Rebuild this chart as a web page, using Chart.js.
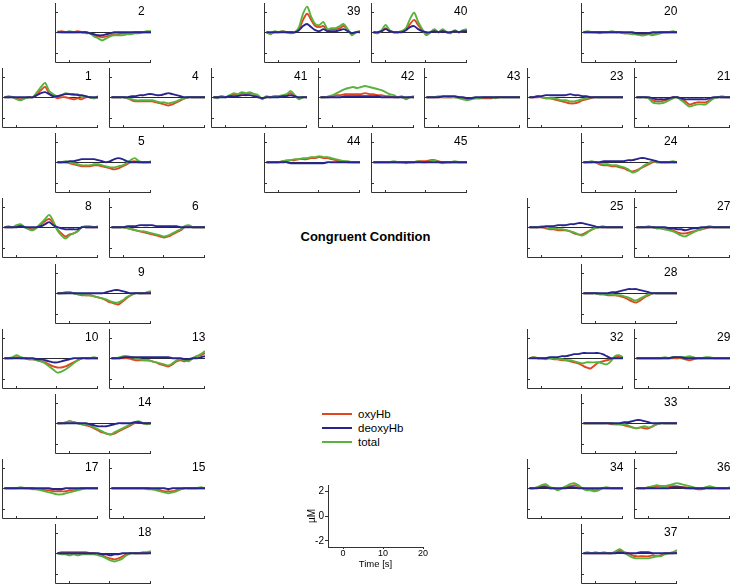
<!DOCTYPE html>
<html><head><meta charset="utf-8">
<script src="https://cdn.jsdelivr.net/npm/chart.js@4.4.1/dist/chart.umd.min.js"></script>
<style>
html,body{margin:0;padding:0;background:#fff;}
#stage{position:relative;width:733px;height:588px;overflow:hidden;font-family:"Liberation Sans",Arial,sans-serif;color:#000;}
#stage canvas{position:absolute;}
#title{position:absolute;left:265.5px;width:200px;top:228.5px;line-height:15px;text-align:center;font-weight:bold;font-size:13px;}
.lgline{position:absolute;left:322px;width:30px;height:2px;}
.lgtext{position:absolute;left:358px;font-size:11.5px;line-height:14px;}
</style></head>
<body><div id="stage">
<div id="title">Congruent Condition</div>
</div>
<script>
// time axis (s) and tick values
const time = [-3,-2,-1,0,1,2,3,4,5,6,7,8,9,10,11,12,13,14,15,16,17,18,19,20];
const xTicks = [0,10,20];
const yTicks = [-2,0,2];
const seriesNames = ['oxyHb','deoxyHb','total'];

// channel values (µM)
const oxy_2 = [0,0.1,0,0,0,0.1,0,0,-0.1,-0.3,-0.4,-0.5,-0.4,-0.3,-0.2,-0.2,-0.1,-0.1,-0.1,0,0,0,0,0];
const deoxy_2 = [0,0,0,0,0,0,0,0,-0.1,-0.2,-0.3,-0.3,-0.2,-0.1,0,0,0,0,0,0,0,0,0,0];
const total_2 = [0.1,0,0,0.1,0,0,0,-0.1,-0.1,-0.4,-0.6,-0.8,-0.6,-0.4,-0.3,-0.3,-0.3,-0.2,-0.2,-0.1,-0.1,0,0.1,0.1];

const oxy_39 = [0,-0.1,0,0,0.1,0,0,0,0.3,1.2,1.8,1.2,0.6,0.5,0.6,0.2,0.3,0.3,0.4,0.6,0.2,-0.1,0,0.1];
const deoxy_39 = [0,0,0,0,0,0,0,0,0.2,0.6,0.8,0.5,0.2,0.1,0.3,0.1,0.1,0.1,0.2,0.3,0.1,-0.1,0,0];
const total_39 = [0,-0.2,0.1,0,0.1,0,-0.1,0,0.5,1.8,2.5,1.5,0.8,0.7,1.0,0.3,0.4,0.4,0.6,0.8,0.3,-0.3,0,0.1];

const oxy_40 = [0,-0.1,0.1,0.4,0.1,0,0,0.1,0.3,0.8,1.2,0.7,0.2,-0.2,0,0.2,0,0.2,0,0,0.1,0,0.1,0.2];
const deoxy_40 = [0,0,0.1,0.3,0.1,0,0,0,0.2,0.5,0.6,0.3,0.1,0,0,0.1,0,0.1,0,0,0.1,0,0.1,0.1];
const total_40 = [0,-0.1,0.2,0.7,0.2,0,0,0.1,0.4,1.3,1.9,1.0,0.3,-0.3,0,0.3,0,0.3,0,-0.1,0.2,0,0.2,0.3];

const oxy_20 = [0,0,0,0,0,0,0,0,0,0,-0.1,-0.1,-0.1,-0.2,-0.2,-0.2,-0.1,-0.2,-0.1,0,0,0,0,0];
const deoxy_20 = [0,0,0,0,0,0,0,0,0,0,0,0,0,-0.1,-0.1,-0.1,-0.1,0,0,0,0,0,0,0];
const total_20 = [0,0.1,0,0,-0.1,0,0,0.1,0,0,-0.1,-0.1,-0.2,-0.2,-0.3,-0.3,-0.2,-0.3,-0.2,-0.1,0,0,0.1,0];

const oxy_1 = [0,0,0,-0.1,-0.2,-0.1,0,0,0.3,0.7,1.0,0.4,0.1,-0.1,0,0,-0.1,-0.2,-0.1,-0.2,0,0,-0.1,0];
const deoxy_1 = [0,0,0,0,0,0,0,0,0.2,0.4,0.5,0.3,0.1,0.1,0.2,0.3,0.3,0.3,0.2,0.2,0.1,0,0,0];
const total_1 = [0,0.1,0,-0.2,-0.3,-0.1,0,0,0.5,1.0,1.4,0.6,0.3,0.1,0.2,0.4,0.3,0.2,0.3,0,0.1,0,-0.1,0.1];

const oxy_4 = [0,0,0,0,-0.1,-0.3,-0.4,-0.4,-0.4,-0.4,-0.4,-0.5,-0.6,-0.7,-0.8,-0.7,-0.5,-0.3,-0.1,0,0,0,0,0];
const deoxy_4 = [0,0,0,0,0,0.1,0.1,0.2,0.2,0.3,0.3,0.2,0.2,0.3,0.4,0.3,0.2,0.1,0,0,0,0,0,0];
const total_4 = [0,0,0,0,-0.1,-0.2,-0.3,-0.3,-0.3,-0.3,-0.3,-0.4,-0.5,-0.5,-0.6,-0.5,-0.4,-0.2,-0.1,0,0,0,0,0];

const oxy_41 = [0,0,0.1,0,0.1,0.3,0.2,0.4,0.3,0.4,0.3,0.1,-0.1,0,0,0.1,0.1,0.1,0.2,0.4,0.1,-0.1,0,0];
const deoxy_41 = [0,0,0,0,0.1,0.1,0.1,0.2,0.2,0.2,0.1,0,-0.1,0,0,0,0,0.1,0.1,0.2,0.1,0,0,0];
const total_41 = [0,-0.1,0.1,0,0.2,0.4,0.3,0.5,0.4,0.5,0.3,0.2,-0.2,0.1,0,0.1,0.1,0.2,0.3,0.6,0.2,-0.2,0,0];

const oxy_42 = [0,0,0,0.1,0.2,0.2,0.3,0.3,0.3,0.3,0.3,0.4,0.3,0.3,0.2,0.2,0.1,0.1,0,0,0,-0.1,0,0];
const deoxy_42 = [0,0,0,0,0,0,0.1,0.1,0.1,0.1,0.1,0.1,0.1,0.1,0.1,0,0,0,0,0,0,0,0,0];
const total_42 = [0,0,0.1,0.2,0.4,0.6,0.8,0.9,1.0,0.9,1.0,1.1,1.0,0.9,0.8,0.7,0.5,0.3,0.2,0,0.1,-0.2,0,0.1];

const oxy_43 = [0,0,0,0,0,0,0,0,0,-0.1,-0.2,-0.1,-0.1,-0.1,-0.1,-0.1,-0.1,0,0,0,0,0,0,0];
const deoxy_43 = [0,0,0,0,0.1,0.1,0.1,0.1,0,0,-0.1,-0.1,0,0,0,0,0,0,0,0,0,0,0,0];
const total_43 = [0,0,0,0.1,0,0,0,0,-0.1,-0.2,-0.3,-0.2,-0.1,-0.1,0,0,0,-0.1,0,0,0,0,0,0];

const oxy_23 = [0,0,0,0,-0.1,-0.1,-0.2,-0.3,-0.4,-0.5,-0.6,-0.6,-0.5,-0.3,-0.2,-0.1,0,0,0,0,0,0,0,0];
const deoxy_23 = [0,0,0.1,0.1,0.2,0.2,0.2,0.2,0.2,0.2,0.3,0.2,0.2,0.1,0.1,0,0,0,0,0,0,0,0,0];
const total_23 = [0,0,0.1,0,-0.1,-0.1,-0.1,-0.2,-0.3,-0.3,-0.4,-0.4,-0.3,-0.2,-0.1,0,0,0,0,0,0,0,0,0];

const oxy_21 = [0,0,0,-0.1,-0.3,-0.4,-0.4,-0.3,-0.2,0,0,-0.2,-0.4,-0.7,-0.6,-0.5,-0.5,-0.5,-0.3,-0.1,0,0,0,0];
const deoxy_21 = [0,0,0,0,-0.1,-0.2,-0.2,-0.2,-0.1,0,0,-0.1,-0.2,-0.2,-0.2,-0.2,-0.2,-0.2,-0.1,0,0,0,0,0];
const total_21 = [0,0,0,-0.1,-0.5,-0.6,-0.6,-0.5,-0.3,-0.1,0,-0.3,-0.6,-0.9,-0.8,-0.7,-0.7,-0.7,-0.4,-0.1,0,0.1,0,0];

const oxy_5 = [0,0,0,-0.1,-0.2,-0.3,-0.4,-0.4,-0.4,-0.3,-0.3,-0.4,-0.5,-0.6,-0.7,-0.6,-0.4,-0.2,0,0.1,0,0,0,0];
const deoxy_5 = [0,0,0,0.1,0.1,0.2,0.3,0.3,0.3,0.3,0.2,0.1,0,0.1,0.3,0.4,0.3,0.1,0,0,0,0,0,0];
const total_5 = [0,0,0.1,0,-0.1,-0.2,-0.3,-0.3,-0.3,-0.2,-0.2,-0.3,-0.4,-0.5,-0.5,-0.4,-0.3,-0.1,0.2,0.4,0.1,0,0,0.1];

const oxy_44 = [0,0,0,0,0.1,0.1,0.2,0.2,0.3,0.3,0.3,0.4,0.4,0.5,0.4,0.4,0.3,0.2,0.1,0.1,0,0,0,0];
const deoxy_44 = [0,0,0,0,0,0,-0.1,-0.1,-0.1,-0.1,-0.1,-0.1,-0.1,-0.1,-0.1,0,0,0,0,0,0,0,0,0];
const total_44 = [0,0,0,0,0.1,0.2,0.2,0.3,0.3,0.4,0.4,0.5,0.5,0.6,0.5,0.5,0.4,0.3,0.2,0.1,0.1,0,0,0];

const oxy_45 = [0,0,0,0,0,0,0,0,0,0,0,0.1,0.1,0.1,0.2,0.2,0.1,0,0,0,0,0,0,0];
const deoxy_45 = [0,0,0,0,0,0,0,0,0,0,0,0,0,0,0,0,0,0,0,0,0,0,0,0];
const total_45 = [0,0,0,0,0,0.1,0,0,-0.1,0,0,0.1,0,0,0.1,0.2,0,-0.1,0,0,0.1,0,0,0];

const oxy_24 = [0,0,0,0,-0.2,-0.3,-0.3,-0.4,-0.4,-0.5,-0.6,-0.8,-0.9,-0.8,-0.6,-0.4,-0.2,0,0,0,0,0,0,0];
const deoxy_24 = [0,0,0,0,0,0.1,0.1,0.1,0.1,0.1,0.1,0.2,0.2,0.3,0.4,0.4,0.3,0.2,0.1,0,0,0,0,0];
const total_24 = [0,0,0.1,0,-0.1,-0.2,-0.2,-0.3,-0.3,-0.4,-0.5,-0.7,-1.0,-0.9,-0.6,-0.3,-0.1,0.1,0,0,0,0,0.1,0];

const oxy_8 = [0,0,0,0.1,0.2,0,-0.1,-0.2,0,0.3,0.6,0.8,0.4,-0.2,-0.6,-0.9,-0.7,-0.6,-0.4,0,0,0,0,0];
const deoxy_8 = [0,0,0,0,0.1,0,0,0,0,0.1,0.3,0.5,0.2,0,-0.1,-0.2,-0.2,-0.2,-0.2,0,0,0,0,0];
const total_8 = [0,0.1,0,0.2,0.3,0,-0.2,-0.3,0,0.4,0.8,1.2,0.6,-0.3,-0.8,-1.1,-0.8,-0.6,-0.4,0,0.1,0.1,0,0.1];

const oxy_6 = [0,0,0,0,-0.1,-0.2,-0.3,-0.4,-0.5,-0.6,-0.7,-0.8,-0.9,-1.0,-0.9,-0.7,-0.5,-0.3,0,0.1,0,0,0,0];
const deoxy_6 = [0,0,0,0,0.1,0.1,0.1,0.2,0.2,0.2,0.2,0.1,0.1,0.1,0.1,0.1,0.1,0,0,0,0,0,0,0];
const total_6 = [0,0,0,0,-0.1,-0.2,-0.3,-0.4,-0.4,-0.5,-0.6,-0.7,-0.8,-0.9,-0.8,-0.6,-0.4,-0.2,0.1,0.2,0,0,0,0];

const oxy_25 = [0,0,0,0,-0.1,-0.2,-0.2,-0.3,-0.3,-0.3,-0.4,-0.6,-0.7,-0.7,-0.5,-0.3,-0.1,0,0,0,0,0,0,0];
const deoxy_25 = [0,0,0,0,0.1,0.1,0.1,0.2,0.2,0.2,0.3,0.3,0.4,0.4,0.3,0.2,0.1,0,0,0,0,0,0,0];
const total_25 = [0,0,0,0.1,0,-0.1,-0.1,-0.2,-0.2,-0.3,-0.4,-0.5,-0.7,-0.8,-0.6,-0.3,-0.1,0,0.1,0,0,0,0,0];

const oxy_27 = [0,0,0,0,0,-0.1,-0.1,-0.2,-0.2,-0.3,-0.5,-0.6,-0.6,-0.5,-0.4,-0.3,-0.2,-0.1,0,0,0,0,0,0];
const deoxy_27 = [0,0,0,0,0,0,0,0,-0.1,-0.1,-0.2,-0.2,-0.3,-0.2,-0.1,-0.1,0,0,0,0,0,0,0,0];
const total_27 = [0,0,0,0.1,0,-0.1,-0.1,-0.2,-0.3,-0.4,-0.6,-0.8,-0.9,-0.7,-0.5,-0.3,-0.2,0,0.1,0,0,0,0,0];

const oxy_9 = [0,0,0.1,0.1,0,-0.1,-0.2,-0.2,-0.2,-0.3,-0.4,-0.5,-0.7,-0.9,-1.0,-1.1,-0.8,-0.5,-0.2,0,0,0,0,0];
const deoxy_9 = [0,0,0,0,0,0,0,0,0,0,0,0,0.1,0.2,0.3,0.3,0.2,0.1,0,0,0,0,0,0];
const total_9 = [0,0,0,0.1,0,-0.1,-0.1,-0.2,-0.2,-0.3,-0.4,-0.5,-0.6,-0.8,-0.9,-0.9,-0.7,-0.4,-0.2,0,0,0,0.1,0.2];

const oxy_28 = [0,0,0,0,-0.1,-0.1,-0.2,-0.2,-0.2,-0.3,-0.4,-0.6,-0.8,-0.9,-0.7,-0.4,-0.2,0,0,0,0,0,0,0];
const deoxy_28 = [0,0,0,0,0,0,0,0.1,0.1,0.2,0.3,0.4,0.4,0.4,0.3,0.2,0.1,0,0,0,0,0,0,0];
const total_28 = [0,0,0,0,-0.1,-0.1,-0.1,-0.1,-0.2,-0.2,-0.3,-0.4,-0.6,-0.7,-0.5,-0.3,-0.1,0,0,0,0,0,0,0];

const oxy_10 = [0,0,0,0.1,0,0,-0.1,-0.1,-0.2,-0.3,-0.4,-0.6,-0.8,-0.9,-0.9,-0.8,-0.6,-0.4,-0.2,0,0,0,0,0];
const deoxy_10 = [0,0,0,0,0,0,0,0,-0.1,-0.1,-0.2,-0.3,-0.4,-0.4,-0.3,-0.2,-0.1,0,0,0,0,0,0,0];
const total_10 = [0,0,0.1,0.3,0.1,0,-0.1,-0.1,-0.2,-0.3,-0.5,-0.8,-1.1,-1.4,-1.3,-1.1,-0.8,-0.5,-0.2,0,0,0,0.1,0];

const oxy_13 = [0,0,0,0,0,-0.1,-0.2,-0.2,-0.2,-0.2,-0.3,-0.4,-0.6,-0.7,-0.8,-0.6,-0.3,-0.2,-0.3,-0.2,0,0.2,0.3,0.5];
const deoxy_13 = [0,0,0,0.1,0.1,0.1,0.1,0.1,0.1,0.1,0.1,0.1,0.1,0.1,0.1,0,0,0,-0.1,-0.1,0,0,0.1,0.2];
const total_13 = [0,0,0.1,0.2,0.2,0.1,0,-0.1,-0.2,-0.2,-0.3,-0.4,-0.5,-0.6,-0.7,-0.5,-0.2,-0.1,-0.2,-0.3,0,0.2,0.4,0.7];

const oxy_32 = [0,0.1,0,0,0,0,-0.1,-0.1,-0.2,-0.2,-0.3,-0.4,-0.5,-0.7,-0.9,-1.0,-0.7,-0.4,-0.3,-0.2,-0.1,0.1,0.2,0.1];
const deoxy_32 = [0,0,0,0,0,0.1,0.1,0.1,0.2,0.2,0.3,0.4,0.4,0.5,0.5,0.5,0.5,0.5,0.4,0.2,0,0,0,0];
const total_32 = [0,0.1,0,0,-0.1,0,0,-0.1,-0.1,-0.2,-0.2,-0.3,-0.4,-0.5,-0.4,-0.4,-0.4,-0.4,-0.5,-0.6,-0.3,0.2,0.3,0.1];

const oxy_29 = [0,0,0,0,0,0,0,0,0,0,0,0,-0.1,-0.2,-0.1,0,0,0,0,0,0,0,0,0];
const deoxy_29 = [0,0,0,0,0,0,0,0,0,0.1,0.1,0.1,0,0,0,0,0,0,0,0,0,0,0,0];
const total_29 = [0,0,0,0,0,0,0,0.1,0,0.1,0.1,0.1,0.1,0.2,0.1,0,0,0.1,0.1,0,0,0,0,0];

const oxy_14 = [0,0,0,0.2,0.1,0,-0.1,-0.2,-0.3,-0.5,-0.7,-0.9,-1.0,-1.1,-1.0,-0.8,-0.6,-0.4,-0.2,0,0.1,0,0,0];
const deoxy_14 = [0,0,0,0,0,0,0,0,-0.1,-0.2,-0.3,-0.3,-0.3,-0.2,-0.1,0,0,0,0,0.1,0.1,0,0,0];
const total_14 = [0,0,0.1,0.2,0.1,0,-0.1,-0.1,-0.2,-0.4,-0.6,-0.8,-1.0,-1.1,-0.9,-0.7,-0.5,-0.3,-0.1,0.1,0.2,0,-0.1,0];

const oxy_33 = [0,0,0,0,0,0,0,-0.1,-0.1,-0.1,-0.2,-0.3,-0.4,-0.5,-0.4,-0.5,-0.5,-0.3,-0.1,0,0,0,0,0];
const deoxy_33 = [0,0,0,0,0,0,0,0,0,0,0.1,0.1,0.2,0.3,0.3,0.2,0.1,0,0,0,0,0,0,0];
const total_33 = [0,0,0,0,0,0,0,0,-0.1,-0.1,-0.1,-0.2,-0.4,-0.5,-0.4,-0.3,-0.4,-0.3,-0.1,0,0,0,0,0];

const oxy_17 = [0,0,0,0,0,0,0,0,-0.1,-0.1,-0.2,-0.2,-0.3,-0.3,-0.3,-0.3,-0.2,-0.2,-0.1,0,0,0,0,0];
const deoxy_17 = [0,0,0,0,0,0,0,0,0,0,0,0,-0.1,-0.1,-0.1,0,0,0,0,0,0,0,0,0];
const total_17 = [0,0,0,0,0.1,0,0,-0.1,-0.1,-0.2,-0.3,-0.4,-0.5,-0.6,-0.6,-0.5,-0.4,-0.3,-0.2,-0.1,0,0,0,0];

const oxy_15 = [0,0,0,0,0,0,0,0,0,0,-0.1,-0.1,-0.2,-0.3,-0.3,-0.3,-0.2,-0.1,0,0,0,0,0,0];
const deoxy_15 = [0,0,0,0,0,0,0,0,0,0,0,0,0,0,-0.1,0,0,0,0,0,0,0,0,0];
const total_15 = [0,0,0,0,0,0,0,0,0,-0.1,-0.1,-0.2,-0.3,-0.4,-0.5,-0.4,-0.3,-0.1,0,0,0,0,0.1,0];

const oxy_34 = [0,0,0.1,0.2,0.2,0,0,-0.1,0,0.1,0.2,0.3,0.2,0,-0.1,-0.1,-0.2,-0.1,0,0,0,0,0,0];
const deoxy_34 = [0,0,0,0.1,0.1,0,0,0,0,0,0.1,0.1,0,0,0,0,0,0,0,0,0,0,0,0];
const total_34 = [0,0,0.1,0.3,0.4,0.1,0,-0.2,0,0.2,0.4,0.5,0.3,0,-0.2,-0.2,-0.3,-0.2,0,0.1,0,0,0,0];

const oxy_36 = [0,0,0,0.1,0.1,0.2,0.2,0.2,0.2,0.2,0.2,0.1,0.1,0,0,-0.1,-0.1,0,0,0,0,0,0,0];
const deoxy_36 = [0,0,0,0,0,0,0,0,0,0.1,0.1,0.1,0,0,0,0,0,0,0,0,0,0,0,0];
const total_36 = [0,0,0,0.1,0.2,0.3,0.2,0.2,0.3,0.4,0.5,0.4,0.3,0.2,0.1,0,0,0.1,0.2,0.1,0,0,0,0.1];

const oxy_18 = [0,0.1,0.1,0.1,0.1,0.1,0.1,0.1,0,0,-0.1,-0.2,-0.4,-0.5,-0.6,-0.5,-0.3,-0.1,0,0,0,0,0,0.1];
const deoxy_18 = [0,0,0,0,0,0,0,0,0,0,0,-0.1,-0.1,-0.2,-0.1,-0.1,0,0,0,0,0,0,0,0];
const total_18 = [0,-0.1,-0.1,-0.2,-0.1,-0.2,-0.1,-0.1,-0.1,-0.1,-0.2,-0.3,-0.5,-0.7,-0.8,-0.7,-0.5,-0.2,0,0,0,0.1,0.1,0.2];

const oxy_37 = [0,0,0,0,0,0,0,0,0.1,0.3,0.1,0,-0.2,-0.3,-0.3,-0.3,-0.3,-0.2,-0.3,-0.2,0,0,0,0.1];
const deoxy_37 = [0,0,0,0,0,0,0,0,0,0.1,0,0,0,0,0.1,0.1,0.1,0,0,0,0,0,0,0];
const total_37 = [0,0.1,0,0.1,0,0.1,0,0,0.2,0.4,0.1,-0.2,-0.4,-0.5,-0.5,-0.5,-0.5,-0.4,-0.3,-0.3,-0.1,0,0.1,0.3];

// lookup table built from the named arrays
const channelData = {
  2:[oxy_2,deoxy_2,total_2], 39:[oxy_39,deoxy_39,total_39], 40:[oxy_40,deoxy_40,total_40], 20:[oxy_20,deoxy_20,total_20],
  1:[oxy_1,deoxy_1,total_1], 4:[oxy_4,deoxy_4,total_4], 41:[oxy_41,deoxy_41,total_41], 42:[oxy_42,deoxy_42,total_42],
  43:[oxy_43,deoxy_43,total_43], 23:[oxy_23,deoxy_23,total_23], 21:[oxy_21,deoxy_21,total_21],
  5:[oxy_5,deoxy_5,total_5], 44:[oxy_44,deoxy_44,total_44], 45:[oxy_45,deoxy_45,total_45], 24:[oxy_24,deoxy_24,total_24],
  8:[oxy_8,deoxy_8,total_8], 6:[oxy_6,deoxy_6,total_6], 25:[oxy_25,deoxy_25,total_25], 27:[oxy_27,deoxy_27,total_27],
  9:[oxy_9,deoxy_9,total_9], 28:[oxy_28,deoxy_28,total_28],
  10:[oxy_10,deoxy_10,total_10], 13:[oxy_13,deoxy_13,total_13], 32:[oxy_32,deoxy_32,total_32], 29:[oxy_29,deoxy_29,total_29],
  14:[oxy_14,deoxy_14,total_14], 33:[oxy_33,deoxy_33,total_33],
  17:[oxy_17,deoxy_17,total_17], 15:[oxy_15,deoxy_15,total_15], 34:[oxy_34,deoxy_34,total_34], 36:[oxy_36,deoxy_36,total_36],
  18:[oxy_18,deoxy_18,total_18], 37:[oxy_37,deoxy_37,total_37]
};

// ---- layout (positions only) ----
const colX = {A:2, A2:55.3, B:109.3, C:210.7, C2:264.3, D:317.7, D2:371, E:424.3, F:527.3, F2:580.5, G:634.3};
const panels = [
 [2,'A2',0],[39,'C2',0],[40,'D2',0],[20,'F2',0],
 [1,'A',1],[4,'B',1],[41,'C',1],[42,'D',1],[43,'E',1],[23,'F',1],[21,'G',1],
 [5,'A2',2],[44,'C2',2],[45,'D2',2],[24,'F2',2],
 [8,'A',3],[6,'B',3],[25,'F',3],[27,'G',3],
 [9,'A2',4],[28,'F2',4],
 [10,'A',5],[13,'B',5],[32,'F',5],[29,'G',5],
 [14,'A2',6],[33,'F2',6],
 [17,'A',7],[15,'B',7],[34,'F',7],[36,'G',7],
 [18,'A2',8],[37,'F2',8]
];
const colors = ['#e2461f','#27248e','#58b23c'];
const drawOrder = [3,1,2];
const FONT = '"Liberation Sans", Arial, sans-serif';
const AXIS = '#333';

const framePlugin = {
  id:'frame',
  beforeDatasetsDraw(chart){
    const {ctx, chartArea:a, scales:{x,y}} = chart;
    const y0 = Math.round(y.getPixelForValue(0)) + 0.5;
    ctx.save(); ctx.strokeStyle = '#2a2a2a'; ctx.lineWidth = 1;
    ctx.beginPath(); ctx.moveTo(a.left, y0); ctx.lineTo(a.right, y0); ctx.stroke();
    ctx.restore();
  },
  afterDatasetsDraw(chart, args, opts){
    const {ctx, chartArea:a, scales:{x,y}} = chart;
    ctx.save(); ctx.strokeStyle = AXIS; ctx.lineWidth = 1;
    const lx = Math.round(a.left) + 0.5, by = Math.round(a.bottom) - 0.5;
    ctx.beginPath();
    ctx.moveTo(lx, a.top); ctx.lineTo(lx, by);
    ctx.moveTo(lx, by); ctx.lineTo(a.right, by);
    xTicks.forEach(v => { const px = Math.round(x.getPixelForValue(v)) - 0.5; ctx.moveTo(px, by); ctx.lineTo(px, by - 2.5); });
    yTicks.forEach(v => { const py = Math.round(y.getPixelForValue(v)) + 0.5; ctx.moveTo(lx, py); ctx.lineTo(lx + 2.5, py); });
    ctx.stroke();
    ctx.fillStyle = '#000'; ctx.font = '12px ' + FONT; ctx.textAlign = 'left'; ctx.textBaseline = 'alphabetic';
    ctx.fillText(opts.label, a.left + 83, a.top + 11.5);
    ctx.restore();
  }
};

const stage = document.getElementById('stage');
const UNIT = 10.25, YMAX = 2.85, YMIN = -3, XMIN = -3.6, XMAX = 20, PW = 96;

panels.forEach(([ch, col, row]) => {
  const L = Math.round(colX[col]);
  const Z = 32.4 + 65.1 * row;
  const top = Math.round(Z - YMAX * UNIT);
  const H = Math.round((YMAX - YMIN) * UNIT);
  const cv = document.createElement('canvas');
  cv.width = PW + 6; cv.height = H + 6;
  cv.style.left = (L - 3) + 'px'; cv.style.top = (top - 3) + 'px';
  stage.appendChild(cv);
  const d = channelData[ch];
  new Chart(cv, {
    type:'line',
    data:{ datasets: d.map((arr, k) => ({
      label: seriesNames[k],
      data: time.map((t, i) => ({x:t, y:arr[i]})),
      borderColor: colors[k], borderWidth: 1.9, pointRadius: 0, tension: 0.3,
      order: drawOrder[k], fill:false
    }))},
    options:{
      responsive:false, animation:false, devicePixelRatio:1, events:[],
      layout:{padding:3},
      plugins:{legend:{display:false}, tooltip:{enabled:false}, frame:{label:String(ch)}},
      scales:{
        x:{type:'linear', display:false, min:XMIN, max:XMAX},
        y:{type:'linear', display:false, min:YMIN, max:YMAX}
      }
    },
    plugins:[framePlugin]
  });
});

// legend
const legendY = [413.5, 427.5, 441.5];
seriesNames.forEach((n, k) => {
  const ln = document.createElement('div'); ln.className = 'lgline';
  ln.style.top = (legendY[k] - 1) + 'px'; ln.style.background = colors[k]; stage.appendChild(ln);
  const tx = document.createElement('div'); tx.className = 'lgtext'; tx.textContent = n;
  tx.style.top = (legendY[k] - 7) + 'px'; stage.appendChild(tx);
});

// scale-bar panel
const sc = document.createElement('canvas');
sc.width = 135; sc.height = 107; sc.style.left = '296px'; sc.style.top = '478px';
stage.appendChild(sc);
new Chart(sc, {
  type:'line',
  data:{datasets:[]},
  options:{
    responsive:false, animation:false, devicePixelRatio:1, events:[],
    layout:{padding:{left:10, top:7, right:8, bottom:15}},
    plugins:{legend:{display:false}, tooltip:{enabled:false}},
    scales:{
      x:{type:'linear', min:-3.75, max:20,
         afterBuildTicks:s=>{ s.ticks = xTicks.map(v=>({value:v})); },
         ticks:{font:{size:9, family:FONT}, color:'#000', padding:-1, maxRotation:0, autoSkip:false},
         grid:{drawOnChartArea:false, tickLength:2, color:AXIS}, border:{color:AXIS},
         title:{display:true, text:'Time [s]', font:{size:9.5, family:FONT}, color:'#000', padding:{top:0, bottom:0}},
         afterFit:s=>{ s.height = 23; }},
      y:{type:'linear', min:-2.5, max:2.5,
         afterBuildTicks:s=>{ s.ticks = yTicks.map(v=>({value:v})); },
         ticks:{font:{size:10, family:FONT}, color:'#000', padding:1},
         grid:{drawOnChartArea:false, tickLength:3, color:AXIS}, border:{color:AXIS},
         title:{display:true, text:'µM', font:{size:10, family:FONT}, color:'#000', padding:{top:0, bottom:0}},
         afterFit:s=>{ s.width = 22; }}
    }
  }
});
</script>
</body></html>
